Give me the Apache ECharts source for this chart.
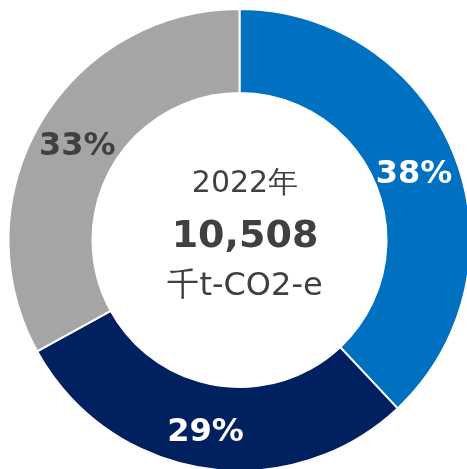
<!DOCTYPE html>
<html><head><meta charset="utf-8">
<script src="https://cdn.jsdelivr.net/npm/echarts@6/dist/echarts.min.js"></script>
<style>html,body{margin:0;padding:0;background:#fff}#c{width:467px;height:469px}</style>
</head><body><div id="c"></div>
<script>
const categories = ['A', 'B', 'C'];
const values = [38, 29, 33];
const colors = ['#0070C0', '#002060', '#A5A5A5'];
const labelColors = ['#ffffff', '#ffffff', '#404040'];
const labelOffsets = [[-4, 5], [-4, 3], [3, 4]];
const centerLines = ['2022年', '10,508', '千t-CO2-e'];
const FONT = '"DejaVu Sans", Verdana, sans-serif';

const chart = echarts.init(document.getElementById('c'), null, {renderer: 'canvas'});
chart.setOption({
  animation: false,
  series: [{
    type: 'pie',
    center: [239.5, 240],
    radius: [147, 231],
    startAngle: 90,
    clockwise: true,
    avoidLabelOverlap: false,
    itemStyle: {borderColor: '#fff', borderWidth: 2},
    label: {
      show: true,
      position: 'inner',
      fontFamily: FONT,
      fontWeight: 'bold',
      fontSize: 32,
      formatter: p => p.value + '%'
    },
    labelLine: {show: false},
    emphasis: {disabled: true},
    data: categories.map((c, i) => ({
      name: c, value: values[i],
      itemStyle: {color: colors[i]},
      label: {color: labelColors[i], offset: labelOffsets[i]}
    }))
  }],
  graphic: [
    {type: 'text', x: 245, y: 184, style: {text: centerLines[0], font: '30px ' + FONT, fill: '#404040', align: 'center', verticalAlign: 'middle'}},
    {type: 'text', x: 245, y: 237, style: {text: centerLines[1], font: 'bold 38px ' + FONT, fill: '#404040', align: 'center', verticalAlign: 'middle'}},
    {type: 'text', x: 245, y: 287, style: {text: centerLines[2], font: '32px ' + FONT, fill: '#404040', align: 'center', verticalAlign: 'middle'}}
  ]
});
</script></body></html>
